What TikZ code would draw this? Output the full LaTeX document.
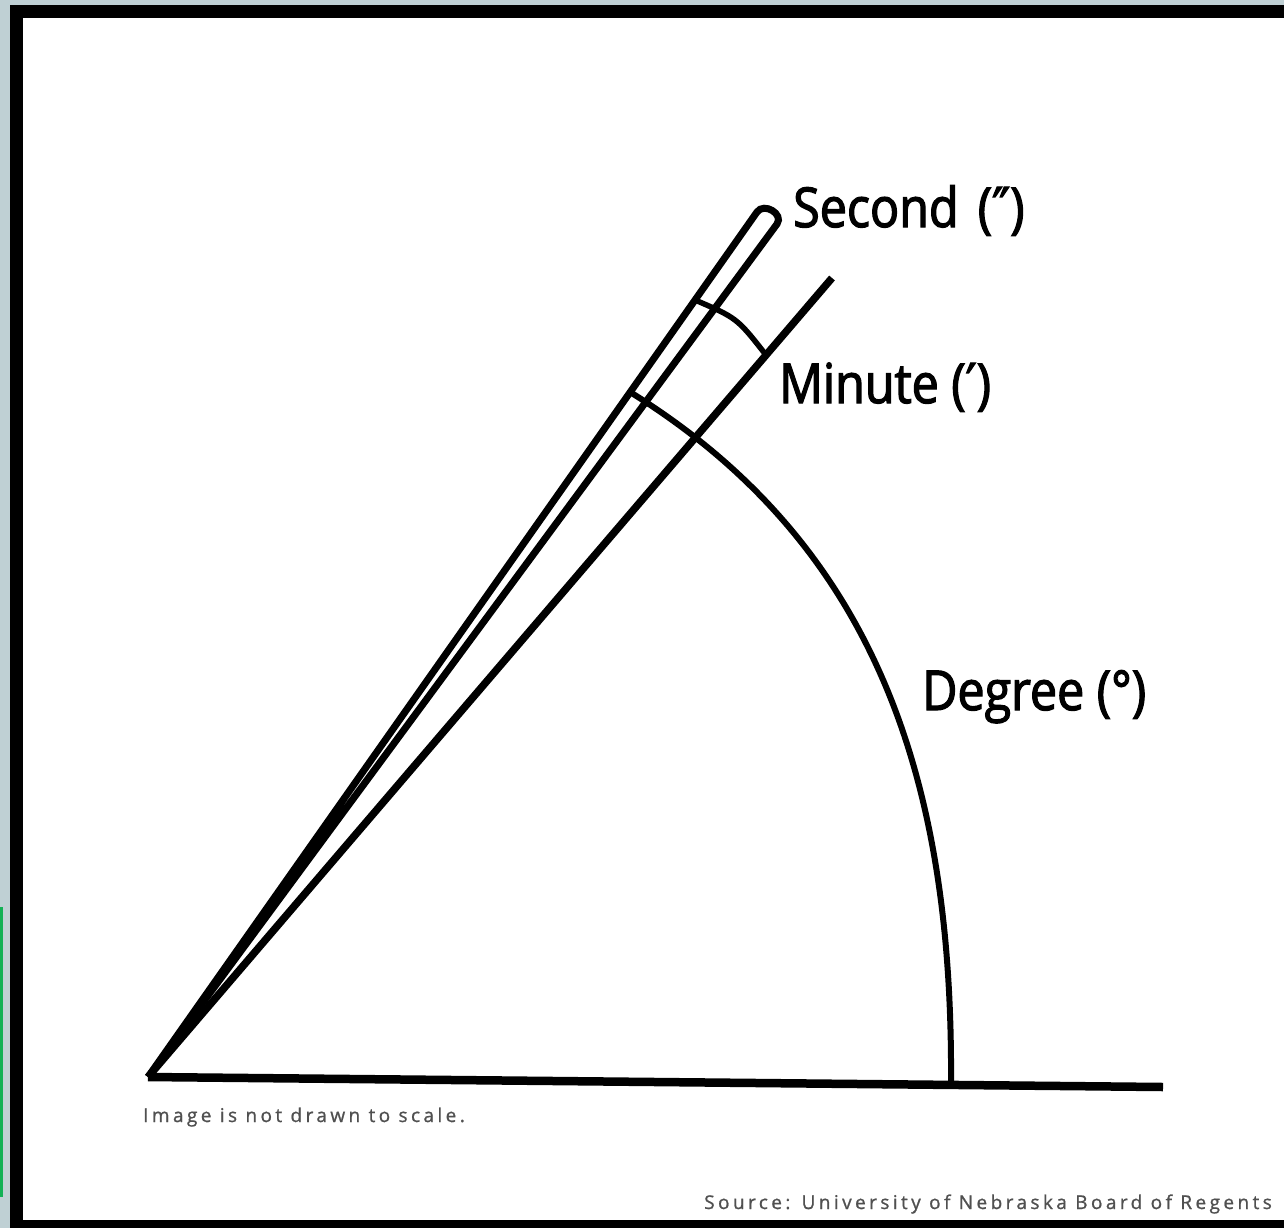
\documentclass[tikz,border=0pt]{standalone}
\usepackage{fontspec}
\setmainfont{Open Sans}
\newfontfamily\labfont[FakeBold=2.2,FakeStretch=0.88]{Open Sans}
\newfontfamily\primefont[FakeBold=2.2,FakeStretch=0.88]{DejaVu Sans}
\newfontfamily\notefont[LetterSpace=18,FakeBold=1]{Open Sans}
\definecolor{bgblue}{HTML}{BFD0D4}
\definecolor{edgegreen}{HTML}{12B155}
\definecolor{notegray}{HTML}{505050}
\begin{document}
\begin{tikzpicture}[x=1pt,y=1pt,line join=miter]
\tikzset{
  rayline/.style={line width=7.5pt,black},
  baseline/.style={line width=8.5pt,black},
  arcline/.style={line width=6pt,black},
  lab/.style={font=\labfont\fontsize{55}{60}\selectfont,inner sep=0pt,anchor=base west},
  note/.style={font=\notefont\fontsize{19}{22}\selectfont,text=notegray,inner sep=0pt}
}
\useasboundingbox (0,0) rectangle (1284,-1228);
% frame
\fill[bgblue] (0,0) rectangle (1284,-1228);
\fill[black] (10,-5) rectangle (1284,-1228);
\fill[white] (23,-18) rectangle (1284,-1220);
\fill[edgegreen] (0,-907) rectangle (3,-1197);
% geometry
\coordinate (O) at (148,-1077);
\coordinate (D) at (832,-278);
\coordinate (B) at (1163,-1087);
\coordinate (S1) at (757,-212);
\coordinate (S2) at (777,-224);
\coordinate (M1) at (695,-300);
\coordinate (M2) at (766,-355);
% degree ray and base line
\draw[rayline] (D) -- (O);
\draw[baseline] (O) -- (B);
% second wedge (thin capsule)
\draw[rayline,line width=7pt] (O) -- (S1) .. controls (764,-202) and (784,-214) .. (S2) -- cycle;
% minute arc
\draw[arcline,line width=5.5pt] (M1) .. controls (737,-318) .. (M2);
% degree arc
\draw[arcline] (630,-392) .. controls (882,-548) and (953,-790) .. (951,-1084);
% labels
\node[lab] (second) at (793,-227) {Second\hspace{0.35em}({\primefont ″})};
\node[lab] (minute) at (779,-403) {Minute ({\primefont ′})};
\node[lab] (degree) at (922,-710) {Degree (°)};
\node[note,anchor=base west] (scale) at (143,-1122) {Image is not drawn to scale.};
\node[note,anchor=base east] (source) at (1272,-1209) {Source: University of Nebraska Board of Regents};
\end{tikzpicture}
\end{document}
